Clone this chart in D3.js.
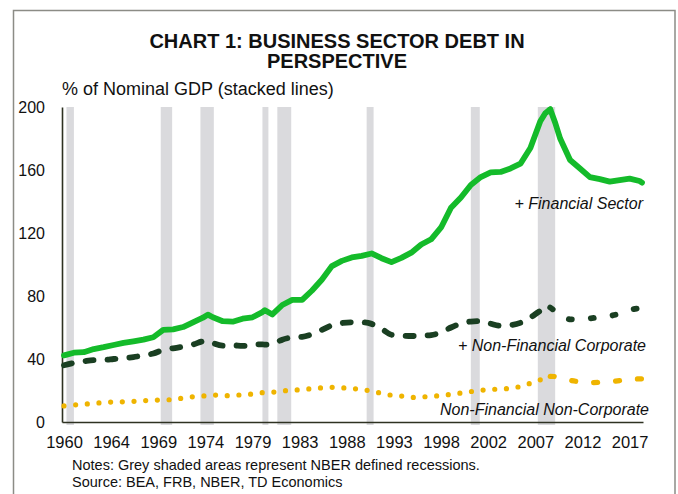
<!DOCTYPE html>
<html>
<head>
<meta charset="utf-8">
<script src="https://cdn.jsdelivr.net/npm/d3@7"></script>
<style>
  html, body { margin: 0; padding: 0; background: #fff; }
  svg { display: block; font-family: "Liberation Sans", Arial, sans-serif; }
</style>
</head>
<body>
<svg id="chart" width="678" height="494"></svg>
<script>
// Sample dates (decimal years) shared by all three stacked lines
const dates = [
  1960, 1961, 1962, 1963, 1964, 1965, 1966, 1967, 1968, 1969, 1970, 1971, 1972, 1973, 1974, 1974.5,
  1975, 1976, 1977, 1978, 1979, 1980, 1980.25,
  1981, 1982, 1983, 1984, 1985, 1986, 1987, 1988, 1989, 1990, 1991, 1992, 1993, 1994, 1995, 1996,
  1997, 1998, 1999, 2000, 2001, 2002, 2003, 2004, 2005, 2006, 2007, 2008, 2008.5, 2009, 2009.5,
  2010, 2011, 2012, 2013, 2014, 2015, 2016, 2017, 2018, 2018.25
];

// Stacked lines, % of nominal GDP (each value is cumulative)
const nonFinNonCorp = [
  10.2, 10.8, 11.3, 11.8, 12.4, 12.7, 12.8, 13.1, 13.5, 13.9, 14.0, 14.3, 15.2, 16.0, 16.5, 16.9,
  17.2, 16.6, 16.9, 17.3, 17.8, 18.6, 18.7,
  18.9, 19.7, 20.2, 20.6, 21.2, 21.7, 22.0, 21.7, 21.3, 20.6, 19.6, 18.2, 17.0, 16.5, 15.6, 15.9,
  16.3, 16.8, 17.6, 18.4, 19.3, 20.1, 20.7, 20.9, 21.4, 22.6, 24.6, 26.8, 27.9, 29.0, 28.8,
  28.0, 26.5, 25.5, 25.0, 25.2, 25.6, 26.3, 27.2, 27.4, 27.4
];
const plusNonFinCorp = [
  36.0, 37.5, 38.5, 39.3, 39.4, 40.0, 40.6, 41.2, 42.3, 43.5, 45.8, 46.8, 47.8, 49.2, 51.2, 51.5,
  50.2, 48.5, 48.7, 48.3, 49.0, 49.3, 49.1,
  49.5, 52.3, 53.7, 54.1, 55.8, 58.5, 61.4, 62.8, 63.3, 63.3, 62.3, 59.2, 55.4, 54.9, 54.6, 54.8,
  55.2, 56.8, 60.0, 62.5, 63.8, 64.1, 62.4, 61.1, 61.5, 63.0, 66.3, 70.5, 71.8, 72.7, 70.5,
  68.6, 65.2, 65.3, 65.8, 66.5, 67.3, 68.8, 71.0, 72.3, 72.5
];
const plusFinancial = [
  42.3, 44.0, 44.3, 46.3, 47.5, 48.9, 50.2, 51.2, 52.3, 53.8, 58.5, 58.8, 60.3, 63.3, 66.2, 68.2,
  66.5, 64.0, 63.7, 65.6, 66.5, 69.8, 71.0,
  68.3, 74.3, 77.5, 77.5, 83.5, 90.5, 99.0, 102.3, 104.5, 105.5, 107.0, 104.0, 101.5, 104.2, 107.5, 112.7,
  116.0, 123.5, 136.0, 142.5, 150.5, 155.5, 158.5, 158.8, 161.0, 164.0, 174.0, 191.0, 196.0, 198.5, 190.0,
  180.0, 166.3, 161.0, 155.5, 154.2, 152.6, 153.6, 154.5, 153.0, 152.0
];

// NBER recessions [start, end] in decimal years
const recessions = [
  [1960.25, 1961.0], [1969.75, 1970.9], [1973.75, 1975.1], [1980.0, 1980.6],
  [1981.5, 1982.9], [1990.5, 1991.2], [2001.0, 2001.9], [2007.75, 2009.5]
];

// Category axis labels, one every 19 quarters starting 1960Q1
const tickLabels = ['1960', '1964', '1969', '1974', '1979', '1983', '1988', '1993', '1998', '2002', '2007', '2012', '2017'];
const yTicks = [0, 40, 80, 120, 160, 200];

const STYLE_SWITCH = 2009;   // line styles change after this date in the source chart
const FONT = '"Liberation Sans", Arial, sans-serif';

const svg = d3.select('#chart');

const x = d3.scaleLinear().domain([1959.8, 2018.35]).range([62, 643]);
const y = d3.scaleLinear().domain([0, 200]).range([422, 107]);

// Frame
svg.append('path')
  .attr('d', 'M13.5,494 V10.5 H675 V494')
  .attr('fill', 'none')
  .attr('stroke', '#8c8c86')
  .attr('stroke-width', 1.5);

// Title
const title = svg.append('text')
  .attr('text-anchor', 'middle')
  .attr('font-weight', 'bold')
  .attr('font-size', 20)
  .attr('fill', '#111');
title.append('tspan').attr('x', 337).attr('y', 47.5).text('CHART 1: BUSINESS SECTOR DEBT IN');
title.append('tspan').attr('x', 337).attr('y', 67.5).text('PERSPECTIVE');

svg.append('text')
  .attr('x', 62).attr('y', 95)
  .attr('font-size', 18)
  .attr('fill', '#111')
  .text('% of Nominal GDP (stacked lines)');

// Recession shading
svg.append('g')
  .selectAll('rect')
  .data(recessions)
  .enter().append('rect')
  .attr('x', d => x(d[0]))
  .attr('width', d => x(d[1]) - x(d[0]))
  .attr('y', y(200))
  .attr('height', y(0) - y(200) + 3)
  .attr('fill', '#dadadd');

// Axes
const yAxis = svg.append('g')
  .attr('transform', `translate(${x.range()[0]},0)`)
  .call(d3.axisLeft(y).tickValues(yTicks).tickSize(0).tickPadding(17));

const xAxis = svg.append('g')
  .attr('transform', `translate(0,${y(0)})`)
  .call(d3.axisBottom(x)
    .tickValues(tickLabels.map((t, i) => 1960 + i * 19 / 4))
    .tickFormat((d, i) => tickLabels[i])
    .tickSize(0).tickPadding(14));

[yAxis, xAxis].forEach(a => {
  a.select('.domain').attr('stroke', '#2e3222').attr('stroke-width', 1.6);
  a.selectAll('text').attr('font-family', FONT).attr('fill', '#111');
});
yAxis.selectAll('text').attr('font-size', 16);
xAxis.selectAll('text').attr('font-size', 16.5);

// Stacked lines, each drawn in two parts so the dash style can change after 2009
const series = [
  { values: nonFinNonCorp, color: '#efb400', width: 5.2, before: '0 11.7', after: '4 18', curve: d3.curveMonotoneX },
  { values: plusNonFinCorp, color: '#1a3f22', width: 5.8, before: '8 14', after: '3 19', curve: d3.curveMonotoneX },
  { values: plusFinancial, color: '#14bb2a', width: 5.8, before: null, after: null, curve: d3.curveLinear },
];

series.forEach(s => {
  const line = d3.line()
    .x(d => x(d[0]))
    .y(d => y(d[1]))
    .curve(s.curve);
  const pts = dates.map((d, i) => [d, s.values[i]]);
  const parts = [
    { pts: pts.filter(p => p[0] <= STYLE_SWITCH), dash: s.before },
    { pts: pts.filter(p => p[0] >= STYLE_SWITCH), dash: s.after },
  ];
  parts.forEach(p => {
    svg.append('path')
      .attr('d', line(p.pts))
      .attr('fill', 'none')
      .attr('stroke', s.color)
      .attr('stroke-width', s.width)
      .attr('stroke-linecap', 'round')
      .attr('stroke-linejoin', 'round')
      .attr('stroke-dasharray', p.dash);
  });
});

// Series labels
const labels = [
  { text: '+ Financial Sector', x: 643, y: 208.5 },
  { text: '+ Non-Financial Corporate', x: 646, y: 350.5 },
  { text: 'Non-Financial Non-Corporate', x: 649, y: 415 },
];
svg.append('g')
  .selectAll('text')
  .data(labels)
  .enter().append('text')
  .attr('x', d => d.x)
  .attr('y', d => d.y)
  .attr('text-anchor', 'end')
  .attr('font-style', 'italic')
  .attr('font-size', 16)
  .attr('fill', '#111')
  .text(d => d.text);

// Notes
const notes = svg.append('text').attr('font-size', 14.5).attr('fill', '#111');
notes.append('tspan').attr('x', 72).attr('y', 470).text('Notes: Grey shaded areas represent NBER defined recessions.');
notes.append('tspan').attr('x', 72).attr('y', 487).text('Source: BEA, FRB, NBER, TD Economics');
</script>
</body>
</html>
